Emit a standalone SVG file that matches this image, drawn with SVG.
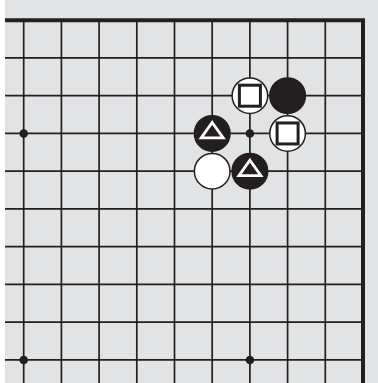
<svg xmlns="http://www.w3.org/2000/svg" width="378" height="383" viewBox="0 0 378 383">
<style>
.g{stroke:#231f20;stroke-width:1.7;fill:none}
.b{stroke:#231f20;stroke-width:4;fill:none}
.ws{fill:#fff;stroke:#231f20;stroke-width:1.5}
.bs{fill:#231f20;stroke:#231f20;stroke-width:1.5}
.sq{fill:#fff;stroke:#231f20;stroke-width:3}
.tr{fill:none;stroke:#fff;stroke-width:2.8;stroke-linejoin:miter}
.hs{fill:#231f20}
</style>
<defs>
<circle id="w" r="17.8" class="ws"/>
<circle id="k" r="17.8" class="bs"/>
<rect id="s" x="-10.5" y="-10.5" width="21" height="21" class="sq"/>
<polygon id="t" points="0,-11 11,4.5 -11,4.5" class="tr"/>
</defs>
<rect x="0" y="0" width="378" height="383" fill="#e2e3e5"/>
<rect x="0" y="0" width="5" height="383" fill="#fff"/>
<g id="connectors">
<path class="g" d="M23.7 20V383M61.4 20V383M99.1 20V383M136.8 20V383M174.5 20V383M212.2 20V383M249.9 20V383M287.6 20V383M325.3 20V383"/>
<path class="g" d="M5 57.95H363M5 95.7H363M5 133.45H363M5 171.2H363M5 208.95H363M5 246.7H363M5 284.45H363M5 322.2H363M5 359.95H363"/>
<path class="b" d="M5 20.2H363V383"/>
</g>
<g id="hoshi">
<circle class="hs" cx="23.7" cy="133.45" r="4.3"/>
<circle class="hs" cx="249.9" cy="133.45" r="4.3"/>
<circle class="hs" cx="23.7" cy="359.95" r="4.3"/>
<circle class="hs" cx="249.9" cy="359.95" r="4.3"/>
</g>
<g id="w1" transform="translate(249.9,95.7)"><use href="#w"/><use href="#s"/></g>
<g id="b1" transform="translate(287.6,95.7)"><use href="#k"/></g>
<g id="b2" transform="translate(212.2,133.45)"><use href="#k"/><use href="#t"/></g>
<g id="w2" transform="translate(287.6,133.45)"><use href="#w"/><use href="#s"/></g>
<g id="w3" transform="translate(212.2,171.2)"><use href="#w"/></g>
<g id="b3" transform="translate(249.9,171.2)"><use href="#k"/><use href="#t"/></g>
</svg>
